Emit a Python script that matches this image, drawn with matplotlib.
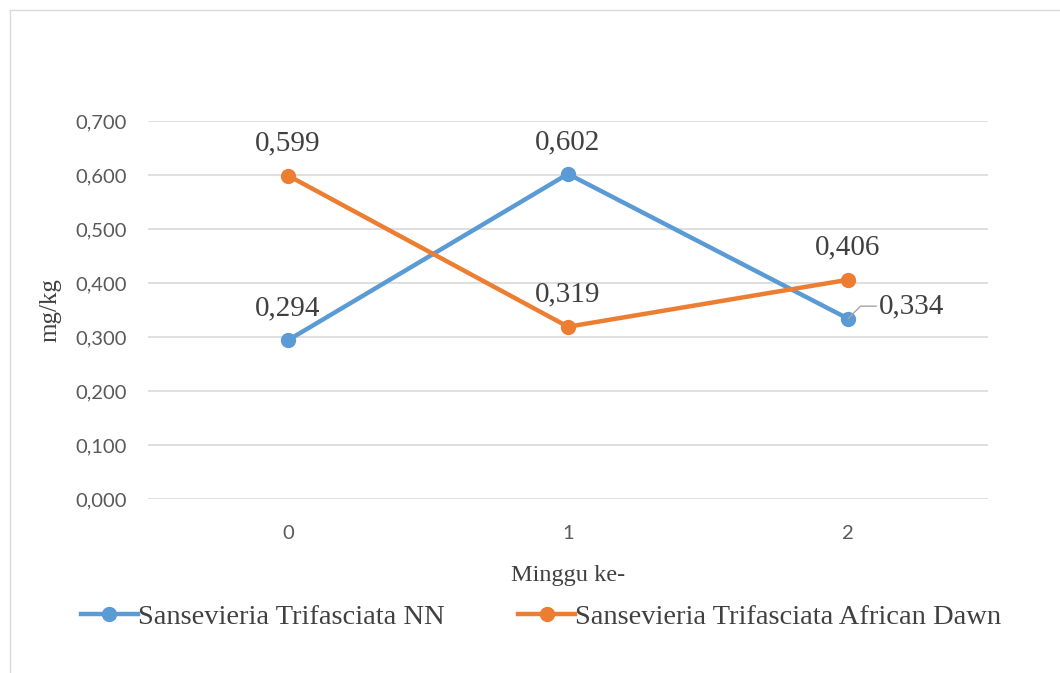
import matplotlib.pyplot as plt
from matplotlib.lines import Line2D

minggu = ["0", "1", "2"]
nn = [0.294, 0.602, 0.334]
african = [0.599, 0.319, 0.406]
label_nn = "Sansevieria Trifasciata NN"
label_af = "Sansevieria Trifasciata African Dawn"
yticks = [0.0, 0.1, 0.2, 0.3, 0.4, 0.5, 0.6, 0.7]

biru = "#5B9BD5"
oranye = "#ED7D31"
serif = "Liberation Serif"
teks = "#404040"

fig = plt.figure(figsize=(10.6, 6.73), dpi=100)
ax = fig.add_axes([148/1060, (673-499)/673, 840/1060, 378/673])

x = list(range(len(minggu)))
ax.plot(x, nn, color=biru, lw=3.2, marker="o", ms=10, label=label_nn, zorder=3)
ax.plot(x, african, color=oranye, lw=3.2, marker="o", ms=10, label=label_af, zorder=3)

ax.set_xlim(-0.5, 2.5)
ax.set_ylim(0, 0.7)
ax.set_yticks(yticks)
ax.set_yticklabels([f"{v:.3f}".replace(".", ",") for v in yticks])
ax.set_xticks(x)
ax.set_xticklabels(minggu)
ax.tick_params(length=0, labelsize=14.5, labelcolor="#595959")
ax.tick_params(axis="y", pad=15)
ax.tick_params(axis="x", pad=19)
for t in ax.get_xticklabels() + ax.get_yticklabels():
    t.set_family("Lato")
ax.grid(axis="y", color="#D9D9D9", lw=1.2)
ax.set_axisbelow(True)
for s in ax.spines.values():
    s.set_visible(False)

def fmt(v):
    return f"{v:.3f}".replace(".", ",")

# label data
for i in range(3):
    ax.annotate(fmt(african[i]), (i, african[i]), xytext=(0, 23), textcoords="offset points",
                ha="center", va="center", fontsize=21, family=serif, color=teks)
for i in range(2):
    ax.annotate(fmt(nn[i]), (i, nn[i]), xytext=(0, 23), textcoords="offset points",
                ha="center", va="center", fontsize=21, family=serif, color=teks)
ax.annotate(fmt(nn[2]), (2, nn[2]), xytext=(46, 9), textcoords="offset points",
            ha="center", va="center", fontsize=21, family=serif, color=teks,
            arrowprops=dict(arrowstyle="-", color="#A6A6A6", lw=1,
                            shrinkA=0, shrinkB=0,
                            connectionstyle="angle,angleA=0,angleB=45,rad=0",
                            relpos=(0, 0.5)))

ax.set_ylabel("mg/kg", fontsize=18, family=serif, color=teks, labelpad=10)
ax.set_xlabel("Minggu ke-", fontsize=17.5, family=serif, color=teks, labelpad=16)

fig.legend(loc="center", bbox_to_anchor=(541/1060, 1 - 617/673), ncol=2, frameon=False,
           prop={"family": serif, "size": 20.5}, labelcolor=teks,
           handlelength=2.0, handletextpad=0.0, columnspacing=2.6)

# bingkai kiri dan atas
fig.add_artist(Line2D([10/1060, 1], [1 - 10/673, 1 - 10/673], transform=fig.transFigure,
                      color="#D9D9D9", lw=1))
fig.add_artist(Line2D([10/1060, 10/1060], [0, 1 - 10/673], transform=fig.transFigure,
                      color="#D9D9D9", lw=1))

fig.savefig("out.png", dpi=100)
